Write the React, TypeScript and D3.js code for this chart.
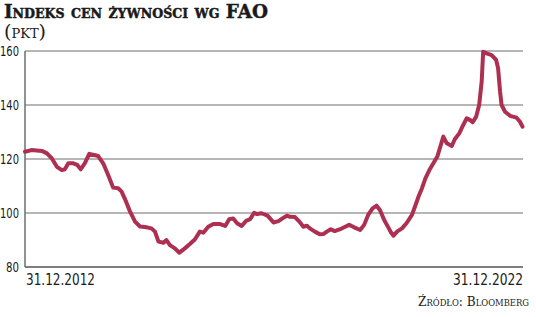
import React from "react";
import * as d3 from "d3";

const years = [
  2013.0, 2013.13, 2013.34, 2013.44, 2013.54, 2013.64, 2013.74, 2013.8, 2013.87, 2013.97,
  2014.05, 2014.12, 2014.2, 2014.29, 2014.39, 2014.47, 2014.57, 2014.67, 2014.77, 2014.87,
  2014.94, 2015.03, 2015.11, 2015.21, 2015.31, 2015.41, 2015.54, 2015.61, 2015.68, 2015.78,
  2015.84, 2015.91, 2016.01, 2016.1, 2016.21, 2016.31, 2016.41, 2016.51, 2016.58, 2016.68,
  2016.78, 2016.92, 2017.02, 2017.1, 2017.18, 2017.26, 2017.35, 2017.44, 2017.52, 2017.6,
  2017.66, 2017.75, 2017.87, 2017.99, 2018.09, 2018.17, 2018.26, 2018.32, 2018.42, 2018.51,
  2018.59, 2018.66, 2018.72, 2018.82, 2018.92, 2018.99, 2019.06, 2019.14, 2019.22, 2019.33,
  2019.43, 2019.51, 2019.61, 2019.73, 2019.81, 2019.89, 2019.98, 2020.06, 2020.13, 2020.21,
  2020.3, 2020.35, 2020.4, 2020.47, 2020.57, 2020.66, 2020.77, 2020.83, 2020.9, 2020.97,
  2021.04, 2021.12, 2021.2, 2021.28, 2021.33, 2021.4, 2021.47, 2021.57, 2021.63, 2021.72,
  2021.8, 2021.87, 2021.94, 2021.99, 2022.06, 2022.12, 2022.17, 2022.2, 2022.27, 2022.37,
  2022.46, 2022.5, 2022.54, 2022.57, 2022.64, 2022.74, 2022.87, 2022.94, 2022.99,
];
const values = [
  122.7, 123.3, 123.0, 122.1, 120.2, 117.1, 115.9, 116.2, 118.4, 118.4,
  117.8, 116.2, 118.4, 121.9, 121.5, 121.1, 118.4, 114.1, 109.4, 109.2,
  107.9, 104.2, 100.5, 96.8, 95.0, 94.8, 94.3, 93.1, 89.4, 89.0,
  90.0, 88.1, 86.9, 85.3, 86.9, 88.5, 90.2, 93.1, 92.7, 94.9,
  95.9, 95.9, 95.2, 97.7, 98.0, 96.2, 95.2, 97.1, 97.7, 100.1,
  99.6, 99.9, 99.0, 96.5, 97.0, 98.0, 99.0, 98.6, 98.5, 96.8,
  94.9, 95.3, 94.3, 93.1, 92.1, 92.2, 93.1, 94.0, 93.3, 94.0,
  94.9, 95.6, 94.7, 93.7, 95.6, 99.3, 101.7, 102.7, 101.0, 97.5,
  94.5, 92.8, 91.6, 93.1, 94.3, 96.2, 99.3, 102.3, 106.0, 109.1,
  112.8, 115.9, 118.4, 120.9, 124.0, 128.3, 125.8, 124.8, 127.3, 129.5,
  132.6, 135.1, 134.4, 133.6, 135.7, 140.0, 148.6, 159.7, 159.1, 158.5,
  156.7, 153.6, 144.9, 140.0, 137.5, 136.0, 135.3, 133.8, 132.0,
];
const yTicks = [80, 100, 120, 140, 160];
const xLabels = ["31.12.2012", "31.12.2022"];
const title = "Indeks cen żywności wg FAO";
const unit = "(pkt)";
const source = "Źródło: Bloomberg";

export default function App() {
  const W = 536, H = 317;
  const left = 25, right = 523, top = 51, bottom = 267;
  const x = d3.scaleLinear().domain([2013, 2023]).range([left, right]);
  const y = d3.scaleLinear().domain([80, 160]).range([bottom, top]);
  const pts = years.map((t, i) => [t, values[i]] as [number, number]);
  const line = d3
    .line<[number, number]>()
    .x((d) => x(d[0]))
    .y((d) => y(d[1]))
    .curve(d3.curveLinear);
  const sans = "'DejaVu Sans Condensed', 'Roboto', sans-serif";
  const serif = "'DejaVu Serif', serif";
  return (
    <svg
      width={W}
      height={H}
      style={{ position: "absolute", left: 0, top: 0, background: "#fff" }}
    >
      <text
        x={4}
        y={18}
        fontFamily={serif}
        fontWeight={900}
        fontSize={19}
        style={{ fontVariant: "small-caps" }}
        fill="#1a1a1a"
        stroke="#1a1a1a"
        strokeWidth={0.5}
        textLength={264}
        lengthAdjust="spacingAndGlyphs"
      >
        {title}
      </text>
      <text
        x={4}
        y={38}
        fontFamily={serif}
        fontSize={19}
        style={{ fontVariant: "small-caps" }}
        fill="#1a1a1a"
        textLength={42}
        lengthAdjust="spacingAndGlyphs"
      >
        {unit}
      </text>
      {yTicks.map((t) => (
        <g key={t}>
          {t !== 80 && (
            <line x1={left} x2={right} y1={y(t)} y2={y(t)} stroke="#6e6e6e" strokeWidth={1.2} />
          )}
          <text
            x={19}
            y={y(t)}
            dy="0.36em"
            textAnchor="end"
            fontFamily={sans}
            fontSize={14}
            fill="#1a1a1a"
            textLength={t >= 100 ? 19 : 13}
            lengthAdjust="spacingAndGlyphs"
          >
            {t}
          </text>
        </g>
      ))}
      <line x1={left} x2={left} y1={top} y2={bottom} stroke="#6e6e6e" strokeWidth={1.5} />
      <line x1={left} x2={right} y1={bottom} y2={bottom} stroke="#555" strokeWidth={1.6} />
      <path d={line(pts) || ""} fill="none" stroke="#ad2f51" strokeWidth={4} strokeLinejoin="round" strokeLinecap="round" />
      <text
        x={left + 1}
        y={285}
        fontFamily={sans}
        fontSize={15}
        fill="#1a1a1a"
        textLength={69}
        lengthAdjust="spacingAndGlyphs"
      >
        {xLabels[0]}
      </text>
      <text
        x={right - 70}
        y={285}
        fontFamily={sans}
        fontSize={15}
        fill="#1a1a1a"
        textLength={70}
        lengthAdjust="spacingAndGlyphs"
      >
        {xLabels[1]}
      </text>
      <text
        x={529}
        y={306}
        textAnchor="end"
        fontFamily={serif}
        fontSize={13}
        style={{ fontVariant: "small-caps" }}
        fill="#1a1a1a"
        textLength={111}
        lengthAdjust="spacingAndGlyphs"
      >
        {source}
      </text>
    </svg>
  );
}
